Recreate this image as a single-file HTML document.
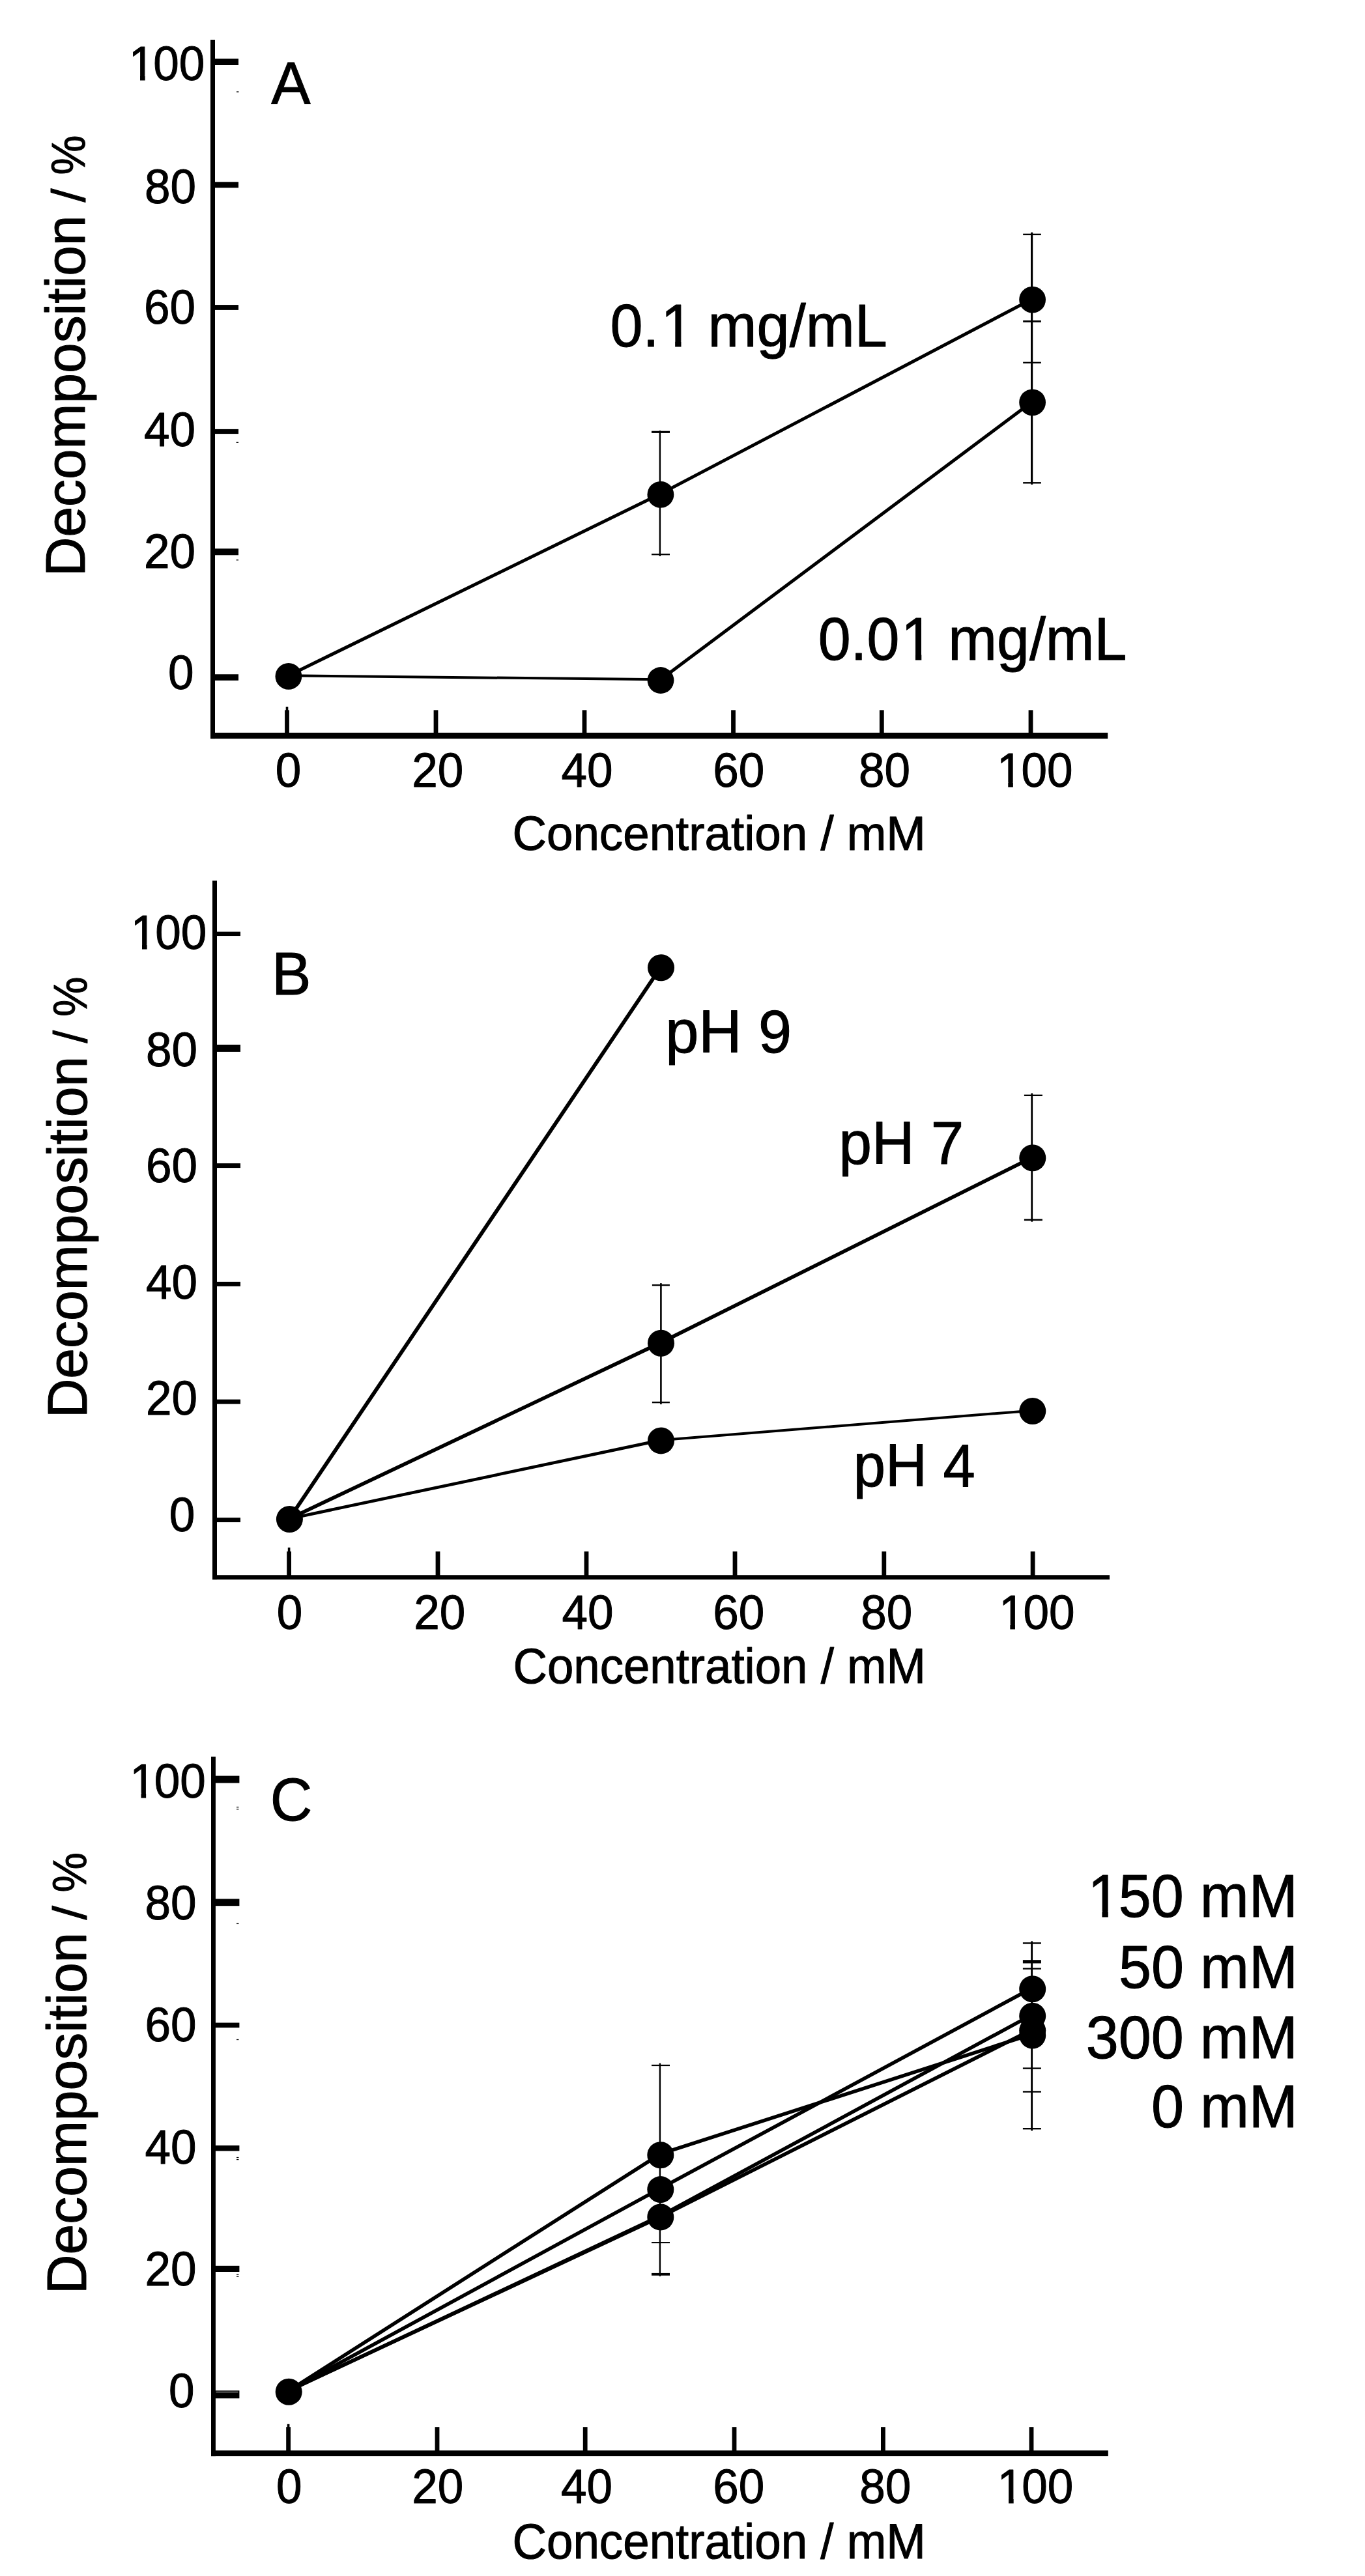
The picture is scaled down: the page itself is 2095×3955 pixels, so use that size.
<!DOCTYPE html>
<html><head><meta charset="utf-8"><title>Decomposition vs concentration</title>
<style>
html,body{margin:0;padding:0;background:#fff}
svg{display:block}
text{font-family:"Liberation Sans",Arial,Helvetica,sans-serif;fill:#000;stroke:#000;stroke-width:1.0;stroke-linejoin:round;vector-effect:non-scaling-stroke}
</style></head><body>
<svg width="2095" height="3955" viewBox="0 0 2095 3955">
<rect x="0" y="0" width="2095" height="3955" fill="#fff"/>
<g fill="#000">
<rect x="323.00" y="61.00" width="7.00" height="1073.10"/>
<rect x="323.00" y="1124.90" width="1377.20" height="9.20"/>
<rect x="329.00" y="90.00" width="37.00" height="10.00"/>
<rect x="329.00" y="279.30" width="37.00" height="9.00"/>
<rect x="329.00" y="468.10" width="37.00" height="7.80"/>
<rect x="329.00" y="658.90" width="37.00" height="7.20"/>
<rect x="329.00" y="842.30" width="37.00" height="10.00"/>
<rect x="329.00" y="1035.25" width="37.00" height="9.50"/>
<rect x="437.10" y="1090.30" width="6.80" height="39.20"/>
<rect x="438.70" y="1085.00" width="3.60" height="6.30"/>
<rect x="665.60" y="1090.30" width="6.80" height="39.20"/>
<rect x="893.60" y="1090.30" width="6.80" height="39.20"/>
<rect x="1122.10" y="1090.30" width="6.80" height="39.20"/>
<rect x="1349.90" y="1090.30" width="6.80" height="39.20"/>
<rect x="1578.60" y="1090.30" width="6.80" height="39.20"/>
<text transform="translate(195.70 123.00) scale(0.9600 1)" font-size="74"><tspan dx="2.22">1</tspan><tspan dx="-2.22">0</tspan>0</text>
<rect fill="#fff" x="201.74" y="116.00" width="13.27" height="9.10"/>
<rect fill="#fff" x="222.64" y="116.00" width="13.50" height="9.10"/>
<text transform="translate(221.91 311.50) scale(0.9600 1)" font-size="74">80</text>
<text transform="translate(221.11 497.00) scale(0.9600 1)" font-size="74">60</text>
<text transform="translate(221.11 685.00) scale(0.9600 1)" font-size="74">40</text>
<text transform="translate(221.11 872.00) scale(0.9600 1)" font-size="74">20</text>
<text transform="translate(258.04 1058.00) scale(0.9600 1)" font-size="74">0</text>
<text transform="translate(422.80 1207.90) scale(0.9600 1)" font-size="74">0</text>
<text transform="translate(632.23 1207.90) scale(0.9600 1)" font-size="74">20</text>
<text transform="translate(861.41 1207.90) scale(0.9600 1)" font-size="74">40</text>
<text transform="translate(1094.13 1207.90) scale(0.9600 1)" font-size="74">60</text>
<text transform="translate(1317.90 1207.90) scale(0.9600 1)" font-size="74">80</text>
<text transform="translate(1527.93 1207.90) scale(0.9600 1)" font-size="74"><tspan dx="2.22">1</tspan><tspan dx="-2.22">0</tspan>0</text>
<rect fill="#fff" x="1533.97" y="1200.90" width="13.27" height="9.10"/>
<rect fill="#fff" x="1554.86" y="1200.90" width="13.50" height="9.10"/>
<text transform="translate(786.46 1305.40) scale(0.9749 1)" font-size="74.6">Concentration / mM</text>
<text transform="translate(129.80 0) rotate(-90)"><tspan x="-885.12" font-size="85" textLength="554.52" lengthAdjust="spacingAndGlyphs">Decomposition</tspan> <tspan x="-310.40" font-size="73" textLength="21.03" lengthAdjust="spacingAndGlyphs">/</tspan> <tspan x="-268.40" font-size="73" textLength="60.94" lengthAdjust="spacingAndGlyphs">%</tspan></text>
<text transform="translate(416.27 160.20) scale(0.9738 1)" font-size="93">A</text>
<rect x="326.00" y="1352.00" width="7.00" height="1073.15"/>
<rect x="326.00" y="2418.25" width="1377.00" height="6.90"/>
<rect x="332.00" y="1430.55" width="37.00" height="6.50"/>
<rect x="332.00" y="1603.90" width="37.00" height="11.00"/>
<rect x="332.00" y="1786.10" width="37.00" height="7.00"/>
<rect x="332.00" y="1967.90" width="37.00" height="7.00"/>
<rect x="332.00" y="2148.60" width="37.00" height="7.00"/>
<rect x="332.00" y="2330.10" width="37.00" height="7.00"/>
<rect x="440.20" y="2382.00" width="6.80" height="39.70"/>
<rect x="441.80" y="2376.00" width="3.60" height="7.00"/>
<rect x="668.60" y="2382.00" width="6.80" height="39.70"/>
<rect x="896.60" y="2382.00" width="6.80" height="39.70"/>
<rect x="1124.60" y="2382.00" width="6.80" height="39.70"/>
<rect x="1353.40" y="2382.00" width="6.80" height="39.70"/>
<rect x="1581.70" y="2382.00" width="6.80" height="39.70"/>
<text transform="translate(198.70 1457.00) scale(0.9600 1)" font-size="74"><tspan dx="2.22">1</tspan><tspan dx="-2.22">0</tspan>0</text>
<rect fill="#fff" x="204.74" y="1450.00" width="13.27" height="9.10"/>
<rect fill="#fff" x="225.64" y="1450.00" width="13.50" height="9.10"/>
<text transform="translate(223.91 1636.50) scale(0.9600 1)" font-size="74">80</text>
<text transform="translate(223.91 1814.50) scale(0.9600 1)" font-size="74">60</text>
<text transform="translate(223.91 1993.50) scale(0.9600 1)" font-size="74">40</text>
<text transform="translate(224.11 2172.00) scale(0.9600 1)" font-size="74">20</text>
<text transform="translate(259.74 2350.50) scale(0.9600 1)" font-size="74">0</text>
<text transform="translate(424.70 2500.70) scale(0.9600 1)" font-size="74">0</text>
<text transform="translate(635.23 2500.70) scale(0.9600 1)" font-size="74">20</text>
<text transform="translate(862.41 2500.70) scale(0.9600 1)" font-size="74">40</text>
<text transform="translate(1094.13 2500.70) scale(0.9600 1)" font-size="74">60</text>
<text transform="translate(1321.30 2500.70) scale(0.9600 1)" font-size="74">80</text>
<text transform="translate(1531.03 2500.70) scale(0.9600 1)" font-size="74"><tspan dx="2.22">1</tspan><tspan dx="-2.22">0</tspan>0</text>
<rect fill="#fff" x="1537.07" y="2493.70" width="13.27" height="9.10"/>
<rect fill="#fff" x="1557.96" y="2493.70" width="13.50" height="9.10"/>
<text transform="translate(787.47 2584.30) scale(0.9604 1)" font-size="75.6">Concentration / mM</text>
<text transform="translate(132.50 0) rotate(-90)"><tspan x="-2177.33" font-size="85" textLength="555.44" lengthAdjust="spacingAndGlyphs">Decomposition</tspan> <tspan x="-1601.50" font-size="73" textLength="19.52" lengthAdjust="spacingAndGlyphs">/</tspan> <tspan x="-1561.02" font-size="73" textLength="61.38" lengthAdjust="spacingAndGlyphs">%</tspan></text>
<text transform="translate(417.02 1526.50) scale(0.9753 1)" font-size="93">B</text>
<rect x="324.00" y="2697.00" width="6.90" height="1074.10"/>
<rect x="324.00" y="3762.30" width="1376.80" height="8.80"/>
<rect x="329.90" y="2726.50" width="37.50" height="11.00"/>
<rect x="329.90" y="2915.40" width="37.50" height="10.80"/>
<rect x="329.90" y="3105.55" width="37.50" height="7.50"/>
<rect x="329.90" y="3293.95" width="37.50" height="8.50"/>
<rect x="329.90" y="3478.80" width="37.50" height="9.20"/>
<rect x="329.90" y="3670.30" width="37.50" height="12.00"/>
<rect x="439.20" y="3726.20" width="6.80" height="40.50"/>
<rect x="440.80" y="3721.80" width="3.60" height="5.40"/>
<rect x="667.60" y="3726.20" width="6.80" height="40.50"/>
<rect x="894.80" y="3726.20" width="6.80" height="40.50"/>
<rect x="1123.60" y="3726.20" width="6.80" height="40.50"/>
<rect x="1352.00" y="3726.20" width="6.80" height="40.50"/>
<rect x="1579.60" y="3726.20" width="6.80" height="40.50"/>
<text transform="translate(197.20 2759.70) scale(0.9600 1)" font-size="74"><tspan dx="2.22">1</tspan><tspan dx="-2.22">0</tspan>0</text>
<rect fill="#fff" x="203.24" y="2752.70" width="13.27" height="9.10"/>
<rect fill="#fff" x="224.14" y="2752.70" width="13.50" height="9.10"/>
<text transform="translate(222.51 2946.90) scale(0.9600 1)" font-size="74">80</text>
<text transform="translate(222.51 3134.10) scale(0.9600 1)" font-size="74">60</text>
<text transform="translate(222.51 3321.50) scale(0.9600 1)" font-size="74">40</text>
<text transform="translate(222.51 3508.80) scale(0.9600 1)" font-size="74">20</text>
<text transform="translate(258.94 3695.50) scale(0.9600 1)" font-size="74">0</text>
<text transform="translate(424.00 3843.30) scale(0.9600 1)" font-size="74">0</text>
<text transform="translate(632.23 3843.30) scale(0.9600 1)" font-size="74">20</text>
<text transform="translate(861.11 3843.30) scale(0.9600 1)" font-size="74">40</text>
<text transform="translate(1094.13 3843.30) scale(0.9600 1)" font-size="74">60</text>
<text transform="translate(1319.30 3843.30) scale(0.9600 1)" font-size="74">80</text>
<text transform="translate(1528.73 3843.30) scale(0.9600 1)" font-size="74"><tspan dx="2.22">1</tspan><tspan dx="-2.22">0</tspan>0</text>
<rect fill="#fff" x="1534.77" y="3836.30" width="13.27" height="9.10"/>
<rect fill="#fff" x="1555.66" y="3836.30" width="13.50" height="9.10"/>
<text transform="translate(786.46 3928.30) scale(0.9620 1)" font-size="75.6">Concentration / mM</text>
<text transform="translate(131.50 0) rotate(-90)"><tspan x="-3522.13" font-size="85" textLength="555.44" lengthAdjust="spacingAndGlyphs">Decomposition</tspan> <tspan x="-2947.40" font-size="73" textLength="21.43" lengthAdjust="spacingAndGlyphs">/</tspan> <tspan x="-2905.42" font-size="73" textLength="61.38" lengthAdjust="spacingAndGlyphs">%</tspan></text>
<text transform="translate(414.63 2794.90) scale(0.9723 1)" font-size="92">C</text>
<rect fill="#fff" x="331.5" y="3672.2" width="34" height="0.9"/>
<rect x="363.00" y="140.35" width="3.40" height="1.30"/>
<rect x="362.60" y="678.65" width="3.40" height="1.30"/>
<rect x="362.60" y="859.15" width="3.40" height="1.30"/>
<rect x="363.00" y="2773.85" width="3.40" height="1.30"/>
<rect x="363.00" y="2776.95" width="3.40" height="1.30"/>
<rect x="363.00" y="2952.75" width="3.40" height="1.30"/>
<rect x="363.00" y="3130.85" width="3.40" height="1.30"/>
<rect x="363.00" y="3311.85" width="3.40" height="1.30"/>
<rect x="363.00" y="3314.95" width="3.40" height="1.30"/>
<rect x="363.00" y="3491.35" width="3.40" height="1.30"/>
<rect x="363.00" y="3494.55" width="3.40" height="1.30"/>
<rect x="1011.70" y="661.10" width="2.40" height="192.90"/>
<rect x="1000.00" y="661.70" width="28.00" height="3.20"/>
<rect x="1000.00" y="850.05" width="28.00" height="2.30"/>
<rect x="1582.00" y="356.80" width="3.20" height="387.10"/>
<rect x="1570.15" y="358.70" width="27.70" height="2.40"/>
<rect x="1570.15" y="491.95" width="27.70" height="2.90"/>
<rect x="1570.15" y="555.65" width="27.70" height="2.30"/>
<rect x="1570.15" y="740.10" width="27.70" height="2.40"/>
<polyline points="442.9,1037.2 1013.9,758.1 1584.6,458.9" fill="none" stroke="#000" stroke-width="5" stroke-linejoin="round"/>
<polyline points="442.9,1037.2 1014.0,1043.3" fill="none" stroke="#000" stroke-width="4" stroke-linejoin="round"/>
<polyline points="1014.0,1043.3 1584.6,616.6" fill="none" stroke="#000" stroke-width="5" stroke-linejoin="round"/>
<circle cx="442.9" cy="1038.4" r="20.4"/>
<circle cx="1013.9" cy="759.3" r="20.4"/>
<circle cx="1584.6" cy="460.1" r="20.4"/>
<circle cx="1014.0" cy="1044.5" r="20.4"/>
<circle cx="1584.6" cy="617.8" r="20.4"/>
<text transform="translate(936.40 532.20) scale(0.9787 1)" font-size="92">0.<tspan dx="2.76">1</tspan><tspan dx="-2.76"> </tspan>mg/mL</text>
<rect fill="#fff" x="1019.15" y="523.82" width="17.00" height="10.48"/>
<rect fill="#fff" x="1045.46" y="523.82" width="17.11" height="10.48"/>
<text transform="translate(1255.71 1013.00) scale(0.9752 1)" font-size="92">0.0<tspan dx="2.76">1</tspan><tspan dx="-2.76"> </tspan>mg/mL</text>
<rect fill="#fff" x="1388.06" y="1004.62" width="16.93" height="10.48"/>
<rect fill="#fff" x="1414.28" y="1004.62" width="17.05" height="10.48"/>
<rect x="1013.10" y="1970.10" width="2.60" height="186.00"/>
<rect x="1000.90" y="1971.90" width="27.00" height="2.40"/>
<rect x="1000.90" y="2151.90" width="27.00" height="2.40"/>
<rect x="1582.30" y="1678.50" width="2.80" height="197.20"/>
<rect x="1571.90" y="1680.60" width="28.00" height="2.40"/>
<rect x="1571.90" y="1871.60" width="28.00" height="2.60"/>
<polyline points="444.1,2331.7 1014.2,1484.9" fill="none" stroke="#000" stroke-width="5.8" stroke-linejoin="round"/>
<polyline points="444.1,2331.7 1014.2,2061.4 1584.5,1777.0" fill="none" stroke="#000" stroke-width="5.6" stroke-linejoin="round"/>
<polyline points="444.1,2331.7 1014.2,2211.1" fill="none" stroke="#000" stroke-width="4.7" stroke-linejoin="round"/>
<polyline points="1014.2,2211.1 1584.5,2165.7" fill="none" stroke="#000" stroke-width="4" stroke-linejoin="round"/>
<circle cx="444.4" cy="2332.5" r="20.5"/>
<circle cx="1014.5" cy="1485.7" r="20.5"/>
<circle cx="1014.5" cy="2062.2" r="20.5"/>
<circle cx="1584.8" cy="1777.8" r="20.5"/>
<circle cx="1014.5" cy="2211.9" r="20.5"/>
<circle cx="1584.8" cy="2166.5" r="20.5"/>
<text transform="translate(1021.23 1615.80) scale(0.9978 1)" font-size="92">pH 9</text>
<text transform="translate(1287.60 1787.20) scale(0.9862 1)" font-size="92">pH 7</text>
<text transform="translate(1309.74 2281.90) scale(0.9628 1)" font-size="92">pH 4</text>
<rect x="1011.70" y="3167.70" width="2.40" height="327.10"/>
<rect x="1000.00" y="3169.90" width="28.00" height="2.20"/>
<rect x="1000.00" y="3442.05" width="28.00" height="2.10"/>
<rect x="1000.00" y="3489.90" width="28.00" height="3.80"/>
<rect x="1582.15" y="2980.40" width="2.90" height="290.90"/>
<rect x="1569.90" y="2982.20" width="28.00" height="2.40"/>
<rect x="1569.90" y="3009.20" width="28.00" height="5.20"/>
<rect x="1569.90" y="3021.30" width="28.00" height="2.40"/>
<rect x="1569.90" y="3174.40" width="28.00" height="2.40"/>
<rect x="1569.90" y="3210.30" width="28.00" height="2.40"/>
<rect x="1569.90" y="3267.00" width="28.00" height="2.40"/>
<polyline points="443.2,3670.5 1013.8,3359.8 1584.7,3052.0" fill="none" stroke="#000" stroke-width="5.5" stroke-linejoin="round"/>
<polyline points="443.2,3670.5 1013.8,3306.9 1584.7,3122.9" fill="none" stroke="#000" stroke-width="5.5" stroke-linejoin="round"/>
<polyline points="443.2,3670.5 1013.8,3402.1 1584.7,3092.9" fill="none" stroke="#000" stroke-width="5.5" stroke-linejoin="round"/>
<polyline points="443.2,3670.5 1013.8,3403.6 1584.7,3115.7" fill="none" stroke="#000" stroke-width="5.5" stroke-linejoin="round"/>
<circle cx="443.2" cy="3672.3" r="20.5"/>
<circle cx="1013.8" cy="3308.7" r="20.5"/>
<circle cx="1013.8" cy="3361.6" r="20.5"/>
<circle cx="1013.8" cy="3403.9" r="20.5"/>
<circle cx="1584.7" cy="3053.8" r="20.5"/>
<circle cx="1584.7" cy="3095.2" r="20.5"/>
<circle cx="1584.7" cy="3117.5" r="20.5"/>
<circle cx="1584.7" cy="3125.0" r="20.5"/>
<text transform="translate(1666.84 2942.50) scale(0.9670 1)" font-size="93"><tspan dx="2.79">1</tspan><tspan dx="-2.79">5</tspan>0 mM</text>
<rect fill="#fff" x="1674.49" y="2934.04" width="16.98" height="10.56"/>
<rect fill="#fff" x="1700.77" y="2934.04" width="17.09" height="10.56"/>
<text transform="translate(1716.98 3051.70) scale(0.9670 1)" font-size="93">50 mM</text>
<text transform="translate(1666.84 3159.70) scale(0.9670 1)" font-size="93">300 mM</text>
<text transform="translate(1766.89 3266.20) scale(0.9670 1)" font-size="93">0 mM</text>
</g>
</svg>
</body></html>
